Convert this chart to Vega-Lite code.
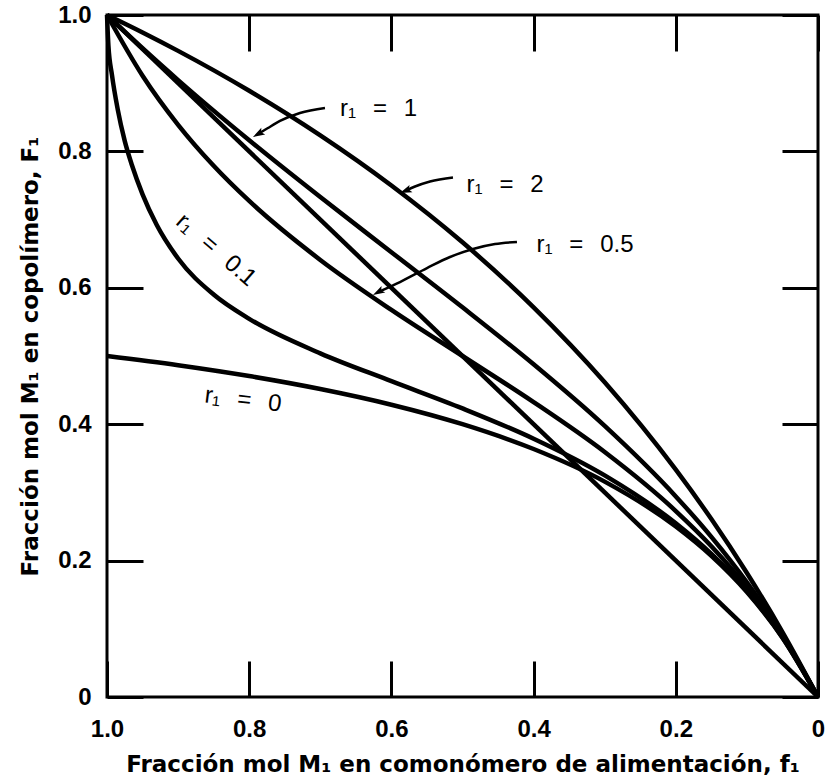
{
  "$schema": "https://vega.github.io/schema/vega-lite/v6.json",
  "width": 711,
  "height": 682,
  "autosize": {"type": "none"},
  "padding": {"left": 107, "top": 15, "right": 12, "bottom": 86},
  "background": "white",
  "config": {
    "view": {"stroke": "black", "strokeWidth": 3},
    "axis": {
      "domain": false,
      "grid": false,
      "tickColor": "black",
      "tickWidth": 3,
      "tickSize": -36,
      "labelColor": "black",
      "titleColor": "black",
      "labelFont": "Liberation Sans",
      "labelFontWeight": "bold",
      "labelFontSize": 24,
      "titleFont": "DejaVu Sans",
      "titleFontWeight": "bold",
      "titleFontSize": 23
    }
  },
  "datasets": {
    "curves": [
      {"s": "2", "feed": 0, "copo": 0}, {"s": "2", "feed": 0.05, "copo": 0.0952}, {"s": "2", "feed": 0.1, "copo": 0.1818}, {"s": "2", "feed": 0.15, "copo": 0.2609}, {"s": "2", "feed": 0.2, "copo": 0.3333}, {"s": "2", "feed": 0.3, "copo": 0.4615}, {"s": "2", "feed": 0.4, "copo": 0.5714}, {"s": "2", "feed": 0.5, "copo": 0.6667}, {"s": "2", "feed": 0.6, "copo": 0.75}, {"s": "2", "feed": 0.7, "copo": 0.8235}, {"s": "2", "feed": 0.8, "copo": 0.8889}, {"s": "2", "feed": 0.9, "copo": 0.9474}, {"s": "2", "feed": 0.95, "copo": 0.9744}, {"s": "2", "feed": 1, "copo": 1},
      {"s": "1", "feed": 0, "copo": 0}, {"s": "1", "feed": 0.05, "copo": 0.0911}, {"s": "1", "feed": 0.1, "copo": 0.1681}, {"s": "1", "feed": 0.15, "copo": 0.2348}, {"s": "1", "feed": 0.2, "copo": 0.2941}, {"s": "1", "feed": 0.3, "copo": 0.3974}, {"s": "1", "feed": 0.4, "copo": 0.4878}, {"s": "1", "feed": 0.5, "copo": 0.5714}, {"s": "1", "feed": 0.6, "copo": 0.6522}, {"s": "1", "feed": 0.7, "copo": 0.733}, {"s": "1", "feed": 0.8, "copo": 0.8163}, {"s": "1", "feed": 0.9, "copo": 0.9045}, {"s": "1", "feed": 0.95, "copo": 0.9512}, {"s": "1", "feed": 1, "copo": 1},
      {"s": "0.5", "feed": 0, "copo": 0}, {"s": "0.5", "feed": 0.05, "copo": 0.089}, {"s": "0.5", "feed": 0.1, "copo": 0.161}, {"s": "0.5", "feed": 0.15, "copo": 0.2211}, {"s": "0.5", "feed": 0.2, "copo": 0.2727}, {"s": "0.5", "feed": 0.3, "copo": 0.3592}, {"s": "0.5", "feed": 0.4, "copo": 0.4324}, {"s": "0.5", "feed": 0.5, "copo": 0.5}, {"s": "0.5", "feed": 0.6, "copo": 0.5676}, {"s": "0.5", "feed": 0.7, "copo": 0.6408}, {"s": "0.5", "feed": 0.8, "copo": 0.7273}, {"s": "0.5", "feed": 0.85, "copo": 0.7789}, {"s": "0.5", "feed": 0.9, "copo": 0.839}, {"s": "0.5", "feed": 0.95, "copo": 0.911}, {"s": "0.5", "feed": 1, "copo": 1},
      {"s": "0.1", "feed": 0, "copo": 0}, {"s": "0.1", "feed": 0.05, "copo": 0.0874}, {"s": "0.1", "feed": 0.1, "copo": 0.1553}, {"s": "0.1", "feed": 0.15, "copo": 0.2098}, {"s": "0.1", "feed": 0.2, "copo": 0.2547}, {"s": "0.1", "feed": 0.3, "copo": 0.3249}, {"s": "0.1", "feed": 0.4, "copo": 0.3787}, {"s": "0.1", "feed": 0.5, "copo": 0.4231}, {"s": "0.1", "feed": 0.6, "copo": 0.4631}, {"s": "0.1", "feed": 0.7, "copo": 0.5039}, {"s": "0.1", "feed": 0.8, "copo": 0.5545}, {"s": "0.1", "feed": 0.85, "copo": 0.5901}, {"s": "0.1", "feed": 0.9, "copo": 0.6429}, {"s": "0.1", "feed": 0.93, "copo": 0.692}, {"s": "0.1", "feed": 0.95, "copo": 0.737}, {"s": "0.1", "feed": 0.965, "copo": 0.78}, {"s": "0.1", "feed": 0.975, "copo": 0.815}, {"s": "0.1", "feed": 0.985, "copo": 0.862}, {"s": "0.1", "feed": 0.993, "copo": 0.912}, {"s": "0.1", "feed": 0.998, "copo": 0.955}, {"s": "0.1", "feed": 1, "copo": 1},
      {"s": "0", "feed": 0, "copo": 0}, {"s": "0", "feed": 0.05, "copo": 0.087}, {"s": "0", "feed": 0.1, "copo": 0.1538}, {"s": "0", "feed": 0.15, "copo": 0.2069}, {"s": "0", "feed": 0.2, "copo": 0.25}, {"s": "0", "feed": 0.3, "copo": 0.3158}, {"s": "0", "feed": 0.4, "copo": 0.3636}, {"s": "0", "feed": 0.5, "copo": 0.4}, {"s": "0", "feed": 0.6, "copo": 0.4286}, {"s": "0", "feed": 0.7, "copo": 0.4516}, {"s": "0", "feed": 0.8, "copo": 0.4706}, {"s": "0", "feed": 0.9, "copo": 0.4865}, {"s": "0", "feed": 1, "copo": 0.5},
      {"s": "diag", "feed": 0, "copo": 0}, {"s": "diag", "feed": 1, "copo": 1}
    ],
    "arrows": [
      {"a": "1", "feed": 0.6934, "copo": 0.8636}, {"a": "1", "feed": 0.7286, "copo": 0.8563}, {"a": "1", "feed": 0.7567, "copo": 0.8446}, {"a": "1", "feed": 0.7736, "copo": 0.8343}, {"a": "1", "feed": 0.7862, "copo": 0.8262},
      {"a": "2", "feed": 0.5134, "copo": 0.7617}, {"a": "2", "feed": 0.5457, "copo": 0.7559}, {"a": "2", "feed": 0.5668, "copo": 0.7485}, {"a": "2", "feed": 0.5788, "copo": 0.7428},
      {"a": "0.5", "feed": 0.4234, "copo": 0.6672}, {"a": "0.5", "feed": 0.4543, "copo": 0.6642}, {"a": "0.5", "feed": 0.4852, "copo": 0.6569}, {"a": "0.5", "feed": 0.5176, "copo": 0.6452}, {"a": "0.5", "feed": 0.5499, "copo": 0.629}, {"a": "0.5", "feed": 0.5879, "copo": 0.6085}, {"a": "0.5", "feed": 0.6174, "copo": 0.5944}
    ],
    "heads": [
      {"a": "1", "feed": 0.7862, "copo": 0.8262, "ang": 240},
      {"a": "2", "feed": 0.5788, "copo": 0.7428, "ang": 248},
      {"a": "0.5", "feed": 0.6173, "copo": 0.5944, "ang": 241}
    ],
    "labels": [
      {"t": "r\u2081\u2002\u2009=\u2002\u20091", "feed": 0.6181, "copo": 0.8622, "ang": 0},
      {"t": "r\u2081\u2002\u2009=\u2002\u20092", "feed": 0.4402, "copo": 0.7507, "ang": 0},
      {"t": "r\u2081\u2002\u2009=\u2002\u20090.5", "feed": 0.3277, "copo": 0.6628, "ang": 0},
      {"t": "r\u2081\u2002\u2009=\u2002\u20090.1", "feed": 0.8467, "copo": 0.6554, "ang": 41},
      {"t": "r\u2081\u2002\u2009=\u2002\u20090", "feed": 0.8087, "copo": 0.4355, "ang": 7}
    ]
  },
  "layer": [
    {
      "data": {"name": "curves"},
      "mark": {"type": "line", "color": "black", "strokeWidth": 4.5, "interpolate": "monotone"},
      "encoding": {
        "x": {
          "field": "feed", "type": "quantitative",
          "scale": {"domain": [0, 1], "reverse": true, "nice": false, "zero": false},
          "axis": {
            "orient": "bottom",
            "values": [0, 0.2, 0.4, 0.6, 0.8, 1],
            "labelExpr": "datum.value == 0 ? '0' : format(datum.value, '.1f')",
            "labelPadding": 56,
            "labelFlush": false,
            "labelOverlap": false,
            "title": "Fracción mol M\u2081 en comonómero de alimentación, f\u2081",
            "titlePadding": 12
          }
        },
        "y": {
          "field": "copo", "type": "quantitative",
          "scale": {"domain": [0, 1], "nice": false, "zero": false},
          "axis": {
            "orient": "left",
            "values": [0, 0.2, 0.4, 0.6, 0.8, 1],
            "labelExpr": "datum.value == 0 ? '0' : format(datum.value, '.1f')",
            "labelPadding": 52,
            "labelOverlap": false,
            "title": "Fracción mol M\u2081 en copolímero, F\u2081",
            "titlePadding": 15
          }
        },
        "detail": {"field": "s", "type": "nominal"}
      }
    },
    {
      "data": {"name": "arrows"},
      "mark": {"type": "line", "color": "black", "strokeWidth": 2.5, "interpolate": "monotone"},
      "encoding": {
        "x": {
          "field": "feed", "type": "quantitative",
          "axis": {"orient": "top", "values": [0, 0.2, 0.4, 0.6, 0.8, 1], "labels": false, "title": null}
        },
        "y": {
          "field": "copo", "type": "quantitative",
          "axis": {"orient": "right", "values": [0, 0.2, 0.4, 0.6, 0.8, 1], "labels": false, "title": null}
        },
        "detail": {"field": "a", "type": "nominal"}
      }
    },
    {
      "data": {"name": "heads"},
      "mark": {"type": "point", "shape": "M0,-1L0.55,0.7L0,0.35L-0.55,0.7Z", "filled": true, "color": "black", "opacity": 1, "size": 196},
      "encoding": {
        "x": {"field": "feed", "type": "quantitative", "axis": null},
        "y": {"field": "copo", "type": "quantitative", "axis": null},
        "angle": {"field": "ang", "type": "quantitative", "scale": null}
      }
    },
    {
      "data": {"name": "labels"},
      "mark": {"type": "text", "font": "Liberation Sans", "fontSize": 24, "color": "black", "align": "center", "baseline": "middle"},
      "encoding": {
        "x": {"field": "feed", "type": "quantitative", "axis": null},
        "y": {"field": "copo", "type": "quantitative", "axis": null},
        "text": {"field": "t", "type": "nominal"},
        "angle": {"field": "ang", "type": "quantitative", "scale": null}
      }
    }
  ],
  "resolve": {"axis": {"x": "independent", "y": "independent"}}
}
